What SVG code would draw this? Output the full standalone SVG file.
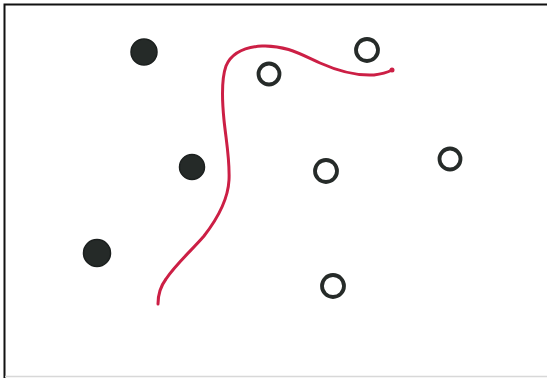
<svg xmlns="http://www.w3.org/2000/svg" width="547" height="378" viewBox="0 0 547 378">
<style>
.filled{fill:#252a28;stroke:#1c201f;stroke-width:1.5}
.open{fill:none;stroke:#262b29;stroke-width:3.8}
.curve{fill:none;stroke:#cc1f45;stroke-width:3;stroke-linecap:round;stroke-linejoin:round}
</style>
<rect x="0" y="0" width="547" height="378" fill="#ffffff"/>
<path d="M4.5 378 V4.5 H547" fill="none" stroke="#111" stroke-width="2"/>
<line x1="5" y1="376.5" x2="547" y2="376.5" stroke="#d8d8d8" stroke-width="1.5"/>
<g id="filled-dots">
<circle class="filled" cx="144" cy="52" r="13"/>
<circle class="filled" cx="192" cy="167" r="12.5"/>
<circle class="filled" cx="97" cy="253" r="13.5"/>
</g>
<g id="open-dots">
<circle class="open" cx="367" cy="50" r="11"/>
<circle class="open" cx="269" cy="74" r="10.5"/>
<circle class="open" cx="326" cy="171" r="11"/>
<circle class="open" cx="450" cy="159" r="10.5"/>
<circle class="open" cx="333" cy="286" r="11"/>
</g>
<g id="red-line">
<path class="curve" d="M158 304 C158 294 160 287 166 279 C176 264 192 250 204 236 C218 218 228 200 229 180 C230 160 226 140 224 120 C222 100 221 80 226 66 C232 52 246 47 262 46 C286 45 302 55 320 63 C338 71 356 76 374 75 C382 74 388 72 392 70"/>
<circle cx="392" cy="70" r="2.5" fill="#cc1f45"/>
</g>
</svg>
